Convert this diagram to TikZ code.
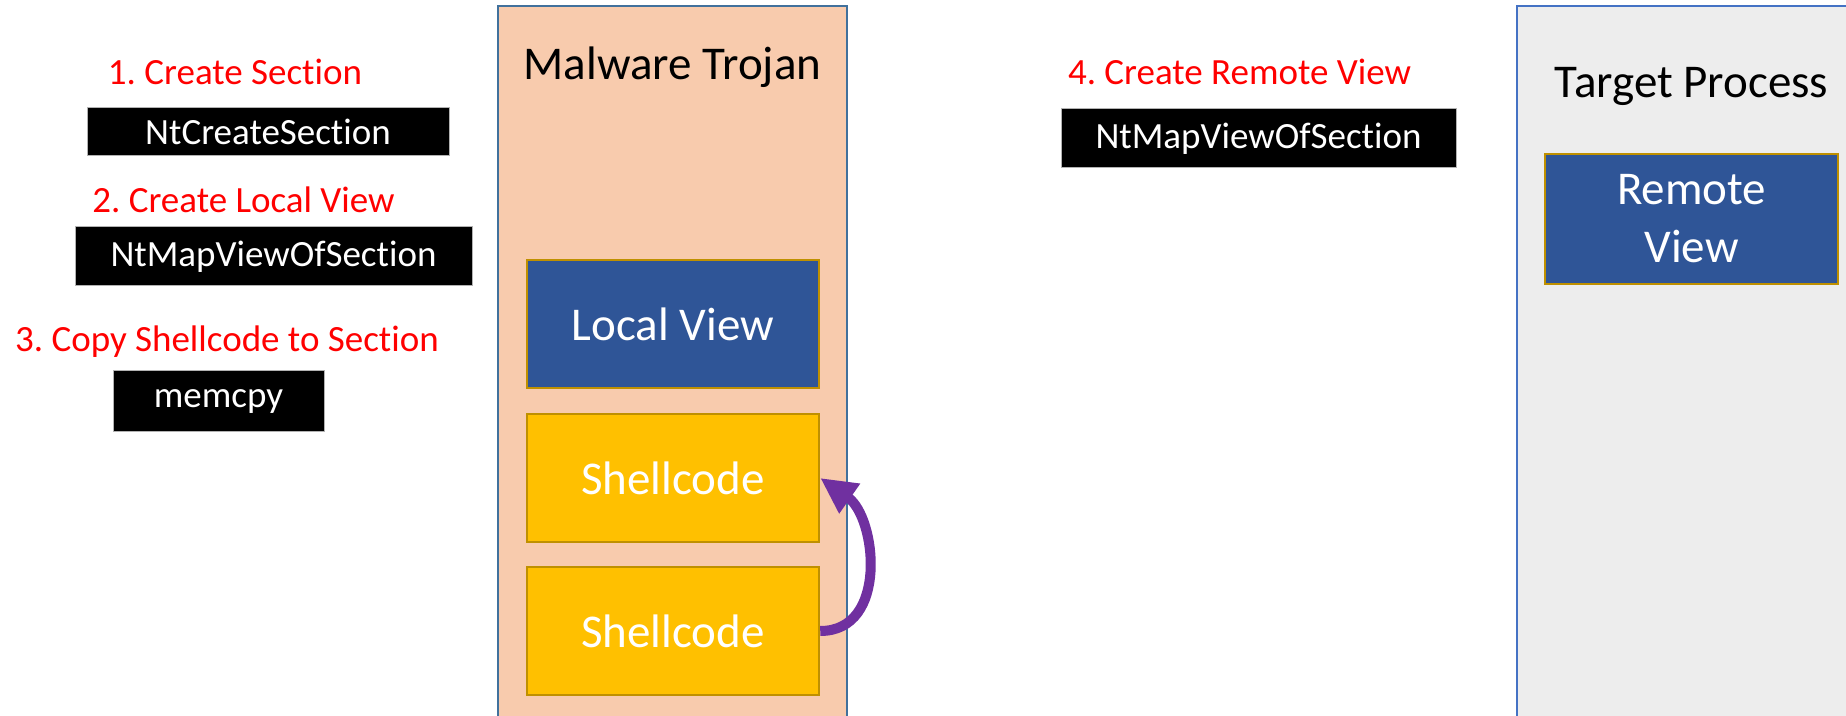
\documentclass[tikz,border=0pt]{standalone}
\usepackage{fontspec}
\setmainfont{Carlito}[Ligatures={NoCommon}]
\usetikzlibrary{arrows.meta}
\frenchspacing
\definecolor{trojanfill}{HTML}{F8CBAD}
\definecolor{trojanline}{HTML}{41719C}
\definecolor{targetfill}{HTML}{EDEDED}
\definecolor{targetline}{HTML}{4472C4}
\definecolor{viewblue}{HTML}{2F5597}
\definecolor{goldline}{HTML}{BF9000}
\definecolor{codeyellow}{HTML}{FFC000}
\definecolor{copypurple}{HTML}{7030A0}

\begin{document}
\begin{tikzpicture}[x=1pt,y=1pt,
procpanel/.style={draw,rectangle,inner sep=0pt,line width=1.5pt},
viewblock/.style={draw=goldline,fill=viewblue,rectangle,line width=2.5pt,minimum width=292pt,minimum height=128pt,text=white,align=center,font=\fontsize{47}{58}\selectfont},
codeblock/.style={viewblock,fill=codeyellow},
callblock/.style={draw=gray!60,fill=black,rectangle,line width=1pt,minimum height=59pt,text=white,font=\fontsize{37}{44}\selectfont},
steptext/.style={text=red,anchor=base,inner sep=0pt,font=\fontsize{37}{44}\selectfont},
titletext/.style={anchor=base,inner sep=0pt,font=\fontsize{47}{56}\selectfont},
copyarrow/.style={draw=copypurple,line width=10pt,-{Triangle[length=36pt,width=34pt]}}]

\path[use as bounding box,fill=white] (0,0) rectangle (1846,715);
\clip (0,0) rectangle (1846,715);

\draw (672.5,349.5) node[procpanel,draw=trojanline,fill=trojanfill,minimum width=349pt,minimum height=719pt] (P1) {};
\draw (1688.5,349.5) node[procpanel,draw=targetline,fill=targetfill,minimum width=343pt,minimum height=719pt] (P2) {};

\draw (672.5,635) node[titletext] (T1) {Malware Trojan};
\draw (1691.5,617) node[titletext] (T2) {Target Process};

\draw (673,391) node[viewblock] (L1) {Local View};
\draw (673,237) node[codeblock] (S1) {Shellcode};
\draw (673,84) node[codeblock] (S2) {Shellcode};
\draw (1691.5,496) node[viewblock,minimum width=293pt,minimum height=130pt] (R1) {Remote\\View};

\draw (235,630) node[steptext] (N1) {1. Create Section};
\draw (268,583) node[callblock,minimum width=362pt,minimum height=48pt] (C1) {NtCreateSection};
\draw (243.5,502) node[steptext] (N2) {2. Create Local View};
\draw (273.5,458.5) node[callblock,minimum width=397pt] (C2) {NtMapViewOfSection};
\draw (227,363) node[steptext] (N3) {3. Copy Shellcode to Section};
\draw (218.5,313.5) node[callblock,minimum width=211pt,minimum height=61pt] (C3) {memcpy};
\draw (1239.5,630) node[steptext] (N4) {4. Create Remote View};
\draw (1258.5,576.5) node[callblock,minimum width=395pt] (C4) {NtMapViewOfSection};

\draw[copyarrow] (S2.east) to[out=0,in=-35,looseness=1.15] (S1.east);

\end{tikzpicture}
\end{document}
